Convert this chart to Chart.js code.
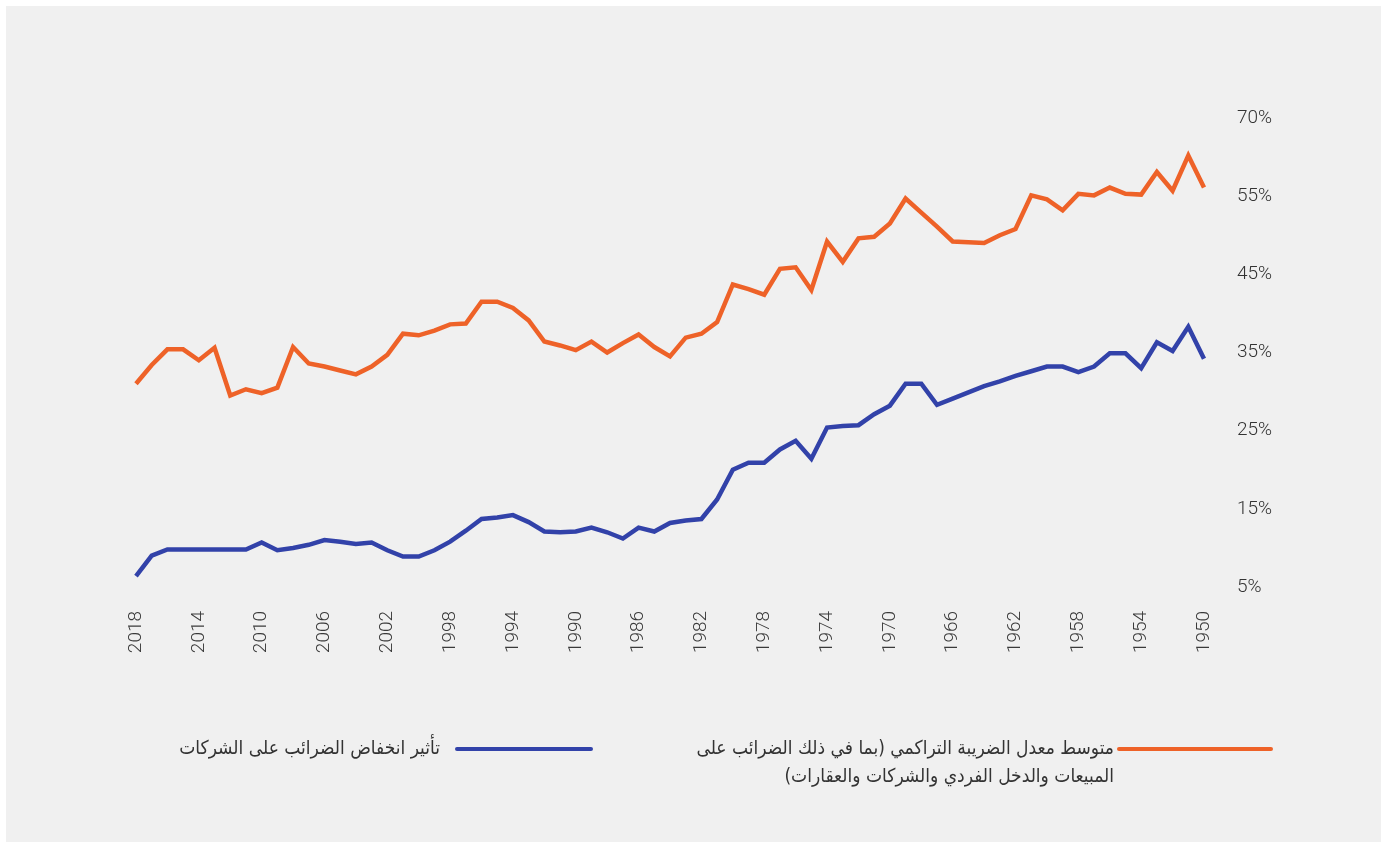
<!DOCTYPE html>
<html lang="ar">
<head>
    <meta charset="UTF-8">
    <title>معدل الضريبة وتأثير انخفاض الضرائب على الشركات</title>
    <script src="https://cdn.jsdelivr.net/npm/chart.js"></script>
    <style>
        body {
            margin: 0;
            background: #ffffff;
            width: 1387px;
            height: 848px;
            overflow: hidden;
            position: relative;
        }

        #panel {
            position: absolute;
            left: 6px;
            top: 6px;
            width: 1375px;
            height: 836px;
            background: #f0f0f0;
        }

        #chartBox {
            position: absolute;
            left: 0;
            top: 0;
            width: 1387px;
            height: 848px;
        }

        .legend-line {
            position: absolute;
            height: 4px;
            border-radius: 2px;
        }

        .legend-text {
            position: absolute;
            direction: rtl;
            text-align: right;
            font-family: 'DejaVu Sans Condensed', 'DejaVu Sans', sans-serif;
            font-size: 19px;
            line-height: 28px;
            color: #333;
            white-space: nowrap;
        }
    </style>
</head>
<body>
    <div id="panel"></div>
    <div id="chartBox"><canvas id="taxChart"></canvas></div>

    <div class="legend-line" style="left:1117px; top:747px; width:156px; background:#ee6228;"></div>
    <div class="legend-text" style="right:273px; top:733px;">متوسط معدل الضريبة التراكمي (بما في ذلك الضرائب على<br>المبيعات والدخل الفردي والشركات والعقارات)</div>

    <div class="legend-line" style="left:455px; top:747px; width:138px; background:#3242a9;"></div>
    <div class="legend-text" style="right:947px; top:733px;">تأثير انخفاض الضرائب على الشركات</div>

    <script>
        const years = [
            2018, 2017, 2016, 2015, 2014, 2013, 2012, 2011, 2010, 2009,
            2008, 2007, 2006, 2005, 2004, 2003, 2002, 2001, 2000, 1999,
            1998, 1997, 1996, 1995, 1994, 1993, 1992, 1991, 1990, 1989,
            1988, 1987, 1986, 1985, 1984, 1983, 1982, 1981, 1980, 1979,
            1978, 1977, 1976, 1975, 1974, 1973, 1972, 1971, 1970, 1969,
            1968, 1967, 1966, 1965, 1964, 1963, 1962, 1961, 1960, 1959,
            1958, 1957, 1956, 1955, 1954, 1953, 1952, 1951, 1950
        ];

        // cumulative average tax rate (%)
        const cumulativeRate = [
            31.0, 33.4, 35.4, 35.4, 34.0, 35.6, 29.5, 30.3, 29.8, 30.5,
            35.7, 33.6, 33.2, 32.7, 32.2, 33.2, 34.7, 37.4, 37.2, 37.8,
            38.6, 38.7, 41.5, 41.5, 40.7, 39.1, 36.4, 35.9, 35.3, 36.4,
            35.0, 36.2, 37.3, 35.7, 34.5, 36.9, 37.4, 38.9, 43.7, 43.1,
            42.4, 45.7, 45.9, 43.0, 49.2, 46.6, 49.6, 49.8, 51.5, 54.7,
            52.9, 51.1, 49.2, 49.1, 49.0, 50.0, 50.8, 55.1, 54.6, 53.2,
            55.3, 55.1, 56.1, 55.3, 55.2, 58.1, 55.7, 60.2, 56.1
        ];

        // effect of lower corporate taxes (%)
        const corporateEffect = [
            6.4, 9.0, 9.8, 9.8, 9.8, 9.8, 9.8, 9.8, 10.7, 9.7,
            10.0, 10.4, 11.0, 10.8, 10.5, 10.7, 9.7, 8.9, 8.9, 9.7,
            10.8, 12.2, 13.7, 13.9, 14.2, 13.3, 12.1, 12.0, 12.1, 12.6,
            12.0, 11.2, 12.6, 12.1, 13.2, 13.5, 13.7, 16.2, 20.0, 20.9,
            20.9, 22.6, 23.7, 21.4, 25.4, 25.6, 25.7, 27.1, 28.2, 31.0,
            31.0, 28.3, 29.1, 29.9, 30.7, 31.3, 32.0, 32.6, 33.2, 33.2,
            32.5, 33.2, 34.9, 34.9, 33.0, 36.3, 35.2, 38.3, 34.2
        ];

        const yTickLabels = ['5%', '15%', '25%', '35%', '45%', '55%', '70%'];

        new Chart(document.getElementById('taxChart'), {
            type: 'line',
            data: {
                labels: years,
                datasets: [
                    {
                        label: 'متوسط معدل الضريبة التراكمي',
                        data: cumulativeRate,
                        borderColor: '#ee6228',
                        borderWidth: 4.5,
                        pointRadius: 0,
                        fill: false,
                        tension: 0
                    },
                    {
                        label: 'تأثير انخفاض الضرائب على الشركات',
                        data: corporateEffect,
                        borderColor: '#3242a9',
                        borderWidth: 4.5,
                        pointRadius: 0,
                        fill: false,
                        tension: 0
                    }
                ]
            },
            options: {
                responsive: true,
                maintainAspectRatio: false,
                animation: false,
                layout: {
                    padding: { left: 136, right: 103, top: 118, bottom: 181 }
                },
                plugins: {
                    legend: { display: false },
                    tooltip: { enabled: false }
                },
                scales: {
                    x: {
                        offset: false,
                        grid: { display: false, drawTicks: false },
                        border: { display: false },
                        afterFit: (scale) => { scale.height = 80; },
                        ticks: {
                            autoSkip: false,
                            minRotation: 90,
                            maxRotation: 90,
                            padding: 24,
                            color: '#3a3a3a',
                            font: { family: 'Roboto', size: 19, weight: 300 },
                            callback: function (val, i) {
                                return i % 4 === 0 ? String(years[i]) : '';
                            }
                        }
                    },
                    y: {
                        position: 'right',
                        min: 5,
                        max: 65,
                        grid: { display: false, drawTicks: false },
                        border: { display: false },
                        afterFit: (scale) => { scale.width = 80; },
                        ticks: {
                            stepSize: 10,
                            padding: 33,
                            color: '#333',
                            font: { family: 'Roboto', size: 19, weight: 300 },
                            callback: function (val, i) {
                                return yTickLabels[i];
                            }
                        }
                    }
                }
            }
        });
    </script>
</body>
</html>
